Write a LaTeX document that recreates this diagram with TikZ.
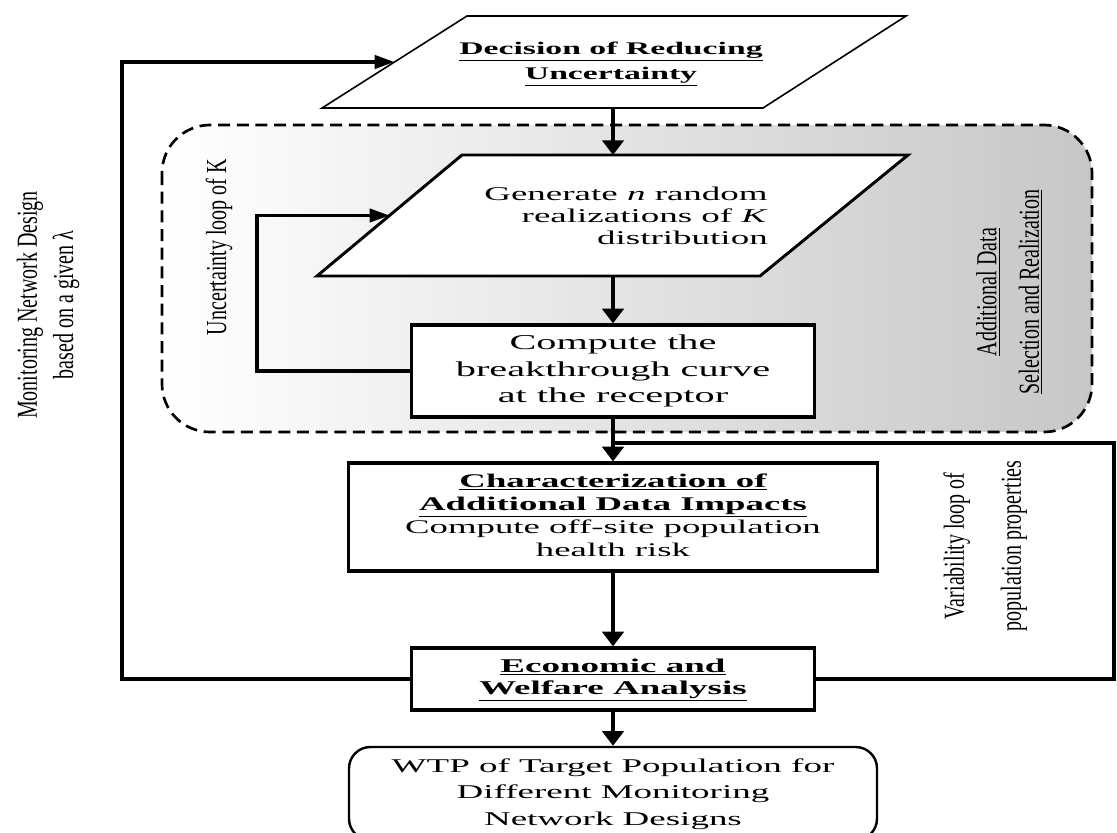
\documentclass[tikz,border=0pt]{standalone}
\usepackage{fontspec}
\setmainfont{Liberation Serif}
\usetikzlibrary{arrows.meta}
\newcommand{\wtxt}[3][1.9]{\scalebox{#1}[1]{\begin{tabular}{@{}#2@{}}#3\end{tabular}}}
\newcommand{\vtxt}[1]{\scalebox{1}[1.45]{\begin{tabular}{@{}c@{}}#1\end{tabular}}}

\begin{document}
\begin{tikzpicture}[x=0.75pt,y=-0.75pt,
    link/.style={line width=2.6pt},
    vflow/.style={link,-{Triangle[length=11pt,width=16pt]}},
    hflow/.style={link,-{Triangle[length=15pt,width=10pt]}},
    box/.style={draw,line width=2.4pt,fill=white,inner sep=0pt},
    lbl/.style={inner sep=0pt,font=\fontsize{15}{#1}\selectfont}]
    \useasboundingbox (0,0) rectangle (1117,832);

    % shaded region
    \draw[line width=2pt,dash pattern=on 9pt off 5pt,rounded corners=36pt,
          left color=white,right color=black!22] (162,125) rectangle (1092,432);

    % parallelograms
    \draw[line width=1.2pt,fill=white] (322,108) coordinate (dec sw)
        -- coordinate (dec w) (467,16) -- (906,16) -- (763,108) -- cycle;
    \node[inner sep=0pt,font=\fontsize{13.3}{18.75}\selectfont] (dec) at (611,62)
        {\wtxt{c}{\textbf{\underline{Decision of Reducing}}\\\textbf{\underline{Uncertainty}}}};

    \draw[line width=2.2pt,fill=white] (317,276) coordinate (gen sw)
        -- coordinate (gen w) (462,155) coordinate (gen nw) -- (908,155) -- (760,276) -- cycle;
    \node[inner sep=0pt,anchor=east,font=\fontsize{14.6}{16.8}\selectfont] (gen) at (768,218)
        {\wtxt{r}{Generate \textit{n} random\\realizations of \textit{K}\\distribution}};

    % boxes
    \node[box,minimum width=302.25pt,minimum height=69pt,font=\fontsize{15.9}{19.8}\selectfont] (brk) at (613,371)
        {\wtxt{c}{Compute the\\breakthrough curve\\at the receptor}};
    \node[box,minimum width=396.75pt,minimum height=81pt,font=\fontsize{14.5}{17.25}\selectfont] (chr) at (613,517)
        {\wtxt{c}{\textbf{\underline{Characterization of}}\\\textbf{\underline{Additional Data Impacts}}\\Compute off-site population\\health risk}};
    \node[box,minimum width=302.25pt,minimum height=46.5pt,font=\fontsize{14.6}{16.5}\selectfont] (eco) at (613,679)
        {\wtxt{c}{\textbf{\underline{Economic and}}\\\textbf{\underline{Welfare Analysis}}}};
    \node[box,line width=1.8pt,rounded corners=16pt,minimum width=396pt,minimum height=69.75pt,
          font=\fontsize{14.6}{20}\selectfont] (wtp) at (613,793.5)
        {\wtxt{c}{WTP of Target Population for\\Different Monitoring\\Network Designs}};

    % side labels
    \node[lbl=14,rotate=90] (mon) at (49,305) {\vtxt{Monitoring Network Design\\[4pt]based on a given λ}};
    \node[lbl=14,rotate=90] (unc) at (220,247) {\vtxt{Uncertainty loop of K}};
    \node[lbl=22,rotate=90] (add) at (1009,292) {\vtxt{\underline{Additional Data}\\\underline{Selection and Realization}}};
    \node[lbl=29.5,rotate=90] (var) at (981,546) {\vtxt{Variability loop of\\population properties}};

    % connectors
    \coordinate (mloop) at (122,62);
    \coordinate (uloop) at (257,215.5);
    \coordinate (vloop) at (1114,443);
    \draw[vflow] (brk |- dec sw) -- (brk |- gen nw);
    \draw[vflow] (brk |- gen sw) -- (brk);
    \draw[vflow] (brk) -- (chr);
    \draw[link] (eco.east) -| (vloop) -- (brk |- vloop);
    \draw[vflow] (chr) -- (eco);
    \draw[vflow] (eco) -- (wtp);
    \draw[hflow] (eco.west) -| (mloop) -- (dec w);
    \draw[hflow] (brk.west) -| (uloop) -- (gen w);
\end{tikzpicture}
\end{document}
